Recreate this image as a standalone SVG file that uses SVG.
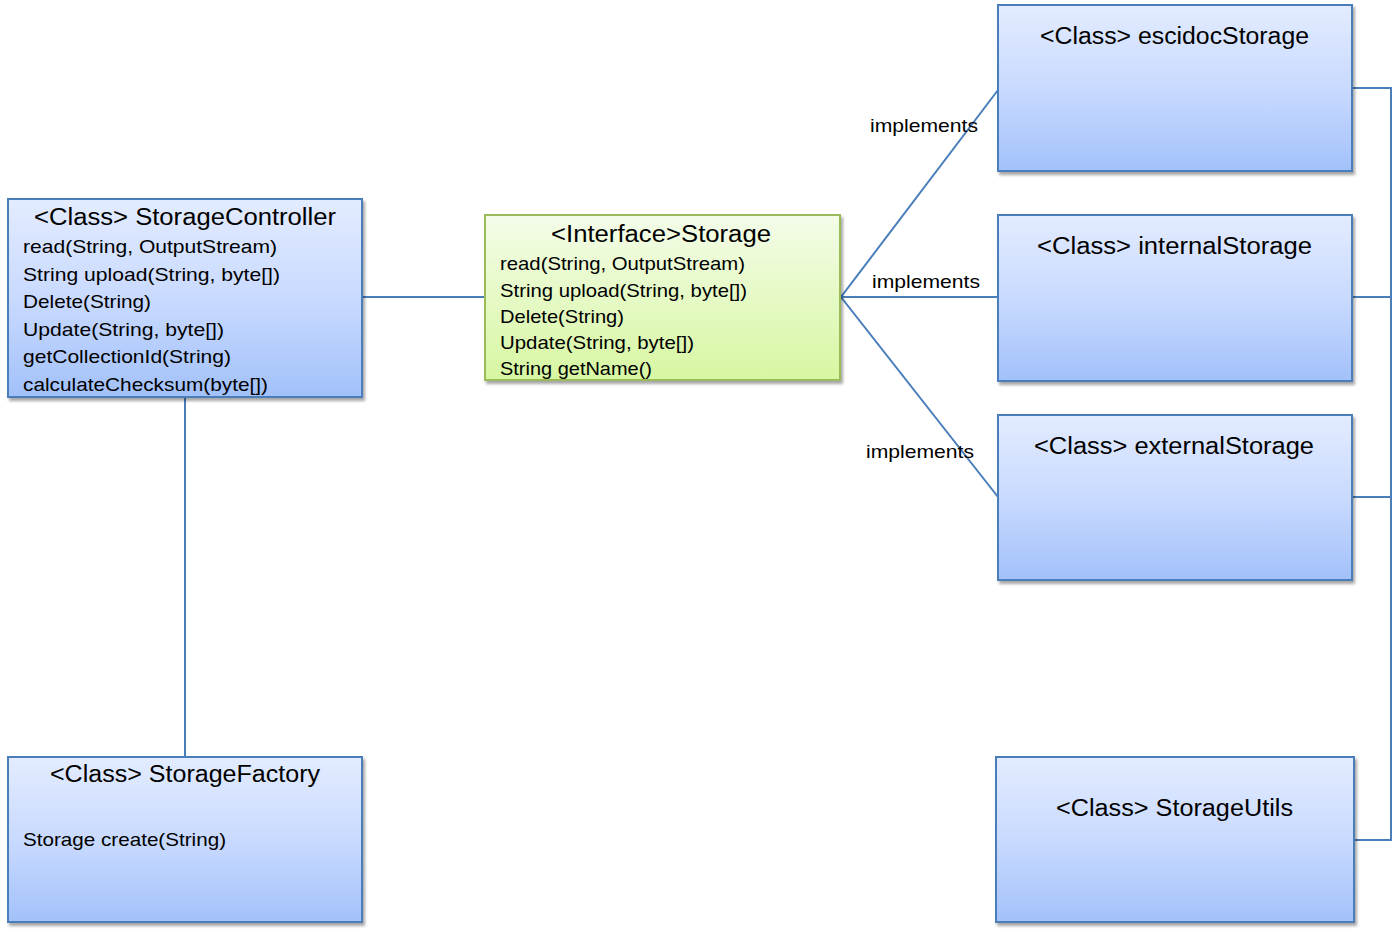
<svg xmlns="http://www.w3.org/2000/svg" width="1393" height="934" viewBox="0 0 1393 934">
<defs>
<linearGradient id="gBlue" x1="0" y1="0" x2="0" y2="1">
<stop offset="0" stop-color="#e3ecff"/>
<stop offset="0.5" stop-color="#c9daff"/>
<stop offset="1" stop-color="#a2c1fa"/>
</linearGradient>
<linearGradient id="gGreen" x1="0" y1="0" x2="0" y2="1">
<stop offset="0" stop-color="#f4fce9"/>
<stop offset="1" stop-color="#d7f7a2"/>
</linearGradient>
<filter id="sh" x="-5%" y="-5%" width="115%" height="115%">
<feDropShadow dx="2" dy="3" stdDeviation="1.8" flood-color="#000" flood-opacity="0.35"/>
</filter>
</defs>
<style>
.box{fill:url(#gBlue);stroke:#4a7ebb;stroke-width:2;filter:url(#sh)}
.ibox{fill:url(#gGreen);stroke:#9bbb59;stroke-width:2;filter:url(#sh)}
.t{font-family:"Liberation Sans",Arial,sans-serif;font-size:23px;fill:#000}
.m{font-family:"Liberation Sans",Arial,sans-serif;font-size:19px;fill:#000}
.l{font-family:"Liberation Sans",Arial,sans-serif;font-size:19px;fill:#000}
.c{fill:none;stroke:#4a7ebb;stroke-width:2}
</style>
<rect width="1393" height="934" fill="#fff"/>
<g id="connectors">
<line class="c" x1="362" y1="297" x2="485" y2="297"/>
<line class="c" x1="185" y1="397" x2="185" y2="757"/>
<polyline class="c" points="998,90 841,297 998,497"/>
<line class="c" x1="841" y1="297" x2="998" y2="297"/>
<polyline class="c" points="1352,88 1391,88 1391,840 1354,840"/>
<line class="c" x1="1352" y1="297" x2="1391" y2="297"/>
<line class="c" x1="1352" y1="497" x2="1391" y2="497"/>
<text class="l" x="870" y="132" textLength="108" lengthAdjust="spacingAndGlyphs">implements</text>
<text class="l" x="872" y="288" textLength="108" lengthAdjust="spacingAndGlyphs">implements</text>
<text class="l" x="866" y="458" textLength="108" lengthAdjust="spacingAndGlyphs">implements</text>
</g>
<g id="StorageController">
<rect class="box" x="8" y="199" width="354" height="198"/>
<text class="t" x="34" y="225" textLength="302" lengthAdjust="spacingAndGlyphs">&lt;Class&gt; StorageController</text>
<text class="m" x="23" y="253" textLength="254" lengthAdjust="spacingAndGlyphs">read(String, OutputStream)</text>
<text class="m" x="23" y="281" textLength="257" lengthAdjust="spacingAndGlyphs">String upload(String, byte[])</text>
<text class="m" x="23" y="308" textLength="128" lengthAdjust="spacingAndGlyphs">Delete(String)</text>
<text class="m" x="23" y="336" textLength="201" lengthAdjust="spacingAndGlyphs">Update(String, byte[])</text>
<text class="m" x="23" y="363" textLength="208" lengthAdjust="spacingAndGlyphs">getCollectionId(String)</text>
<text class="m" x="23" y="391" textLength="245" lengthAdjust="spacingAndGlyphs">calculateChecksum(byte[])</text>
</g>
<g id="Storage">
<rect class="ibox" x="485" y="215" width="355" height="165"/>
<text class="t" x="551" y="242" textLength="220" lengthAdjust="spacingAndGlyphs">&lt;Interface&gt;Storage</text>
<text class="m" x="500" y="270" textLength="245" lengthAdjust="spacingAndGlyphs">read(String, OutputStream)</text>
<text class="m" x="500" y="297" textLength="247" lengthAdjust="spacingAndGlyphs">String upload(String, byte[])</text>
<text class="m" x="500" y="323" textLength="124" lengthAdjust="spacingAndGlyphs">Delete(String)</text>
<text class="m" x="500" y="349" textLength="194" lengthAdjust="spacingAndGlyphs">Update(String, byte[])</text>
<text class="m" x="500" y="375" textLength="152" lengthAdjust="spacingAndGlyphs">String getName()</text>
</g>
<g id="escidocStorage">
<rect class="box" x="998" y="5" width="354" height="166"/>
<text class="t" x="1040" y="44" textLength="269" lengthAdjust="spacingAndGlyphs">&lt;Class&gt; escidocStorage</text>
</g>
<g id="internalStorage">
<rect class="box" x="998" y="215" width="354" height="166"/>
<text class="t" x="1037" y="254" textLength="275" lengthAdjust="spacingAndGlyphs">&lt;Class&gt; internalStorage</text>
</g>
<g id="externalStorage">
<rect class="box" x="998" y="415" width="354" height="165"/>
<text class="t" x="1034" y="454" textLength="280" lengthAdjust="spacingAndGlyphs">&lt;Class&gt; externalStorage</text>
</g>
<g id="StorageUtils">
<rect class="box" x="996" y="757" width="358" height="165"/>
<text class="t" x="1056" y="816" textLength="237" lengthAdjust="spacingAndGlyphs">&lt;Class&gt; StorageUtils</text>
</g>
<g id="StorageFactory">
<rect class="box" x="8" y="757" width="354" height="165"/>
<text class="t" x="50" y="782" textLength="270" lengthAdjust="spacingAndGlyphs">&lt;Class&gt; StorageFactory</text>
<text class="m" x="23" y="846" textLength="203" lengthAdjust="spacingAndGlyphs">Storage create(String)</text>
</g>
</svg>
